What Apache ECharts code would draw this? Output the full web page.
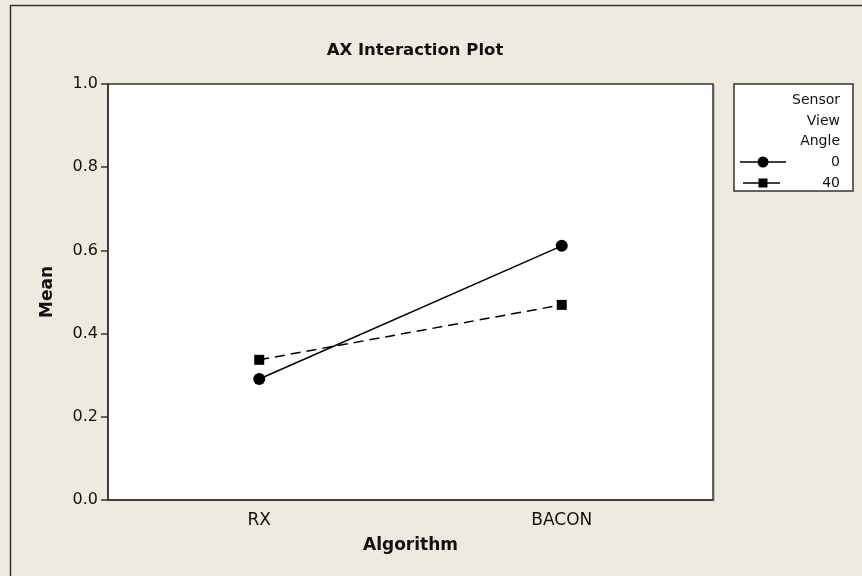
<!DOCTYPE html>
<html><head><meta charset="utf-8">
<script src="https://cdn.jsdelivr.net/npm/echarts@6/dist/echarts.min.js"></script>
<style>html,body{margin:0;padding:0;background:#EFEAE0}#c{width:862px;height:576px}</style>
</head><body><div id="c"></div>
<script>
var categories = ['RX', 'BACON'];
var angle0 = [0.291, 0.611];
var angle40 = [0.337, 0.469];
var yTicks = [0.0, 0.2, 0.4, 0.6, 0.8, 1.0];
var legendTitle = ['Sensor', 'View', 'Angle'];
var seriesNames = ['0', '40'];

var font = 'DejaVu Sans';
var iconCircle = 'path://M0 5.25H18V6.75H0Z M28 5.25H46V6.75H28Z M17.5 6A5.5 5.5 0 1 1 28.5 6A5.5 5.5 0 1 1 17.5 6Z';
var iconSquare = 'path://M3 5.25H19V6.75H3Z M27 5.25H40V6.75H27Z M18.5 1.5H27.5V10.5H18.5Z M0 0H0.01V12H0Z M46 0H46.01V12H46Z';

var chart = echarts.init(document.getElementById('c'), null, {renderer: 'canvas'});
chart.setOption({
  backgroundColor: '#EFEAE0',
  animation: false,
  title: {text: 'AX Interaction Plot', left: 410, textAlign: 'center', top: 37,
    textStyle: {fontFamily: font, fontSize: 16.5, fontWeight: 'bold', color: '#111'}},
  grid: {left: 108, top: 84, right: 149, bottom: 76, show: true, backgroundColor: '#fff',
    borderColor: '#333', borderWidth: 1.5},
  xAxis: {type: 'category', data: categories, boundaryGap: true,
    name: 'Algorithm', nameLocation: 'middle', nameGap: 37,
    nameTextStyle: {fontFamily: font, fontSize: 17, fontWeight: 'bold', color: '#111'},
    axisLine: {lineStyle: {color: '#333', width: 1.5}},
    axisTick: {alignWithLabel: true, length: 7, lineStyle: {color: '#333', width: 1.5}},
    axisLabel: {fontFamily: font, fontSize: 17, color: '#111', margin: 12},
    splitLine: {show: false}},
  yAxis: {type: 'value', min: 0, max: 1, interval: 0.2,
    name: 'Mean', nameLocation: 'middle', nameGap: 52,
    nameTextStyle: {fontFamily: font, fontSize: 17, fontWeight: 'bold', color: '#111'},
    axisLine: {show: true, lineStyle: {color: '#333', width: 1.5}},
    axisTick: {show: true, length: 7, lineStyle: {color: '#333', width: 1.5}},
    axisLabel: {fontFamily: font, fontSize: 16, color: '#111', margin: 10,
      formatter: function (v) { return v.toFixed(1); }},
    splitLine: {show: false}},
  legend: {orient: 'vertical', left: 740, top: 155, itemWidth: 46, itemHeight: 12, itemGap: 7,
    padding: 0,
    data: [{name: seriesNames[0], icon: iconCircle}, {name: seriesNames[1], icon: iconSquare}],
    itemStyle: {color: '#000', borderWidth: 0},
    formatter: '{r|{name}}',
    textStyle: {fontFamily: font, fontSize: 14, color: '#111',
      rich: {r: {width: 49, align: 'right', lineHeight: 12, fontFamily: font, fontSize: 14, color: '#111'}}}},
  graphic: [
    {type: 'rect', shape: {x: 10.5, y: 5.5, width: 900, height: 600}, style: {fill: 'none', stroke: '#333', lineWidth: 1.5}, z: -10, silent: true},
    {type: 'line', shape: {x1: 714.5, y1: 85, x2: 714.5, y2: 501.5}, style: {stroke: '#bbb', lineWidth: 1}, silent: true},
    {type: 'rect', shape: {x: 734, y: 84, width: 119, height: 107}, style: {fill: '#fff', stroke: '#333', lineWidth: 1.5}, z: -5},
    {type: 'text', style: {x: 840, y: 100, text: legendTitle[0], align: 'right', verticalAlign: 'middle', font: '14px DejaVu Sans', fill: '#111'}},
    {type: 'text', style: {x: 840, y: 121, text: legendTitle[1], align: 'right', verticalAlign: 'middle', font: '14px DejaVu Sans', fill: '#111'}},
    {type: 'text', style: {x: 840, y: 141, text: legendTitle[2], align: 'right', verticalAlign: 'middle', font: '14px DejaVu Sans', fill: '#111'}}
  ],
  series: [
    {name: seriesNames[0], type: 'line', data: angle0, symbol: 'circle', symbolSize: 12,
      itemStyle: {color: '#000'}, lineStyle: {color: '#000', width: 1.5}},
    {name: seriesNames[1], type: 'line', data: angle40, symbol: 'rect', symbolSize: 10,
      itemStyle: {color: '#000'}, lineStyle: {color: '#000', width: 1.5, type: [10, 6]}}
  ]
});
</script></body></html>
